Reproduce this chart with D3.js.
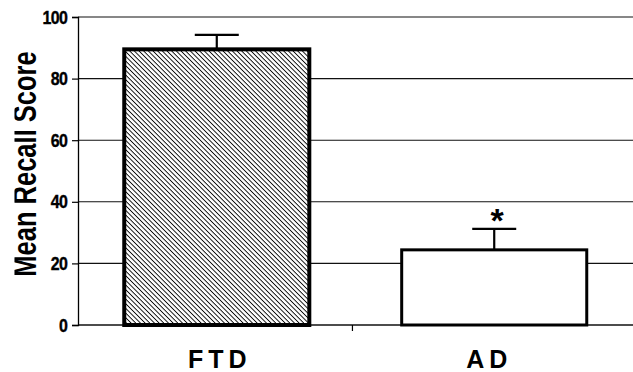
<!DOCTYPE html>
<html>
<head>
<meta charset="utf-8">
<script src="https://cdn.jsdelivr.net/npm/d3@7"></script>
<style>
  html, body { margin: 0; padding: 0; background: #fff; }
  svg { display: block; font-family: Arial, "Liberation Sans", sans-serif; }
</style>
</head>
<body>
<svg id="chart" width="633" height="372"></svg>
<script>
// data
const groups = ['FTD', 'AD'];
const means = [89.5, 24.4];
const errors = [4.7, 6.8];
const yTicks = [0, 20, 40, 60, 80, 100];
const labelShift = [3, -5]; // category labels sit a bit off-centre in the original

const margin = { top: 17, right: 0, bottom: 47, left: 78 };
const width = 633, height = 372;

const svg = d3.select('#chart');

// hatch for the FTD bar
const defs = svg.append('defs');
const pat = defs.append('pattern')
    .attr('id', 'hatch')
    .attr('patternUnits', 'userSpaceOnUse')
    .attr('width', 3.3)
    .attr('height', 3.3)
    .attr('patternTransform', 'rotate(45)');
pat.append('rect').attr('width', 3.3).attr('height', 3.3).attr('fill', '#fff');
pat.append('line')
    .attr('x1', 0).attr('y1', 0).attr('x2', 3.3).attr('y2', 0)
    .attr('stroke', '#000').attr('stroke-width', 1.8);

// the scan crops the top of the y title
defs.append('clipPath').attr('id', 'leftcut')
    .append('rect').attr('x', 14.5).attr('y', 0).attr('width', 60).attr('height', height);

const x = d3.scaleBand()
    .domain(groups)
    .range([margin.left, width - margin.right])
    .paddingInner(0.333)
    .paddingOuter(0.1667);

const y = d3.scaleLinear()
    .domain([0, 100])
    .range([height - margin.bottom, margin.top]);

// grid lines
svg.append('g')
    .selectAll('line')
    .data(yTicks)
    .enter().append('line')
    .attr('x1', margin.left)
    .attr('x2', width)
    .attr('y1', d => y(d))
    .attr('y2', d => y(d))
    .attr('stroke', '#111')
    .attr('stroke-width', d => d === 0 ? 1.6 : 1.1);

// y axis
const yAxis = svg.append('g')
    .attr('transform', `translate(${margin.left},0)`)
    .call(d3.axisLeft(y).tickValues(yTicks).tickSize(6).tickPadding(4));
yAxis.select('.domain').attr('stroke', '#000').attr('stroke-width', 1.3);
yAxis.selectAll('.tick line').attr('stroke', '#000').attr('stroke-width', 1.2);
yAxis.selectAll('.tick text')
    .attr('fill', '#000')
    .attr('stroke', '#000')
    .attr('stroke-width', 0.4)
    .attr('x', -13)
    .attr('transform', 'scale(0.84,1)')
    .style('font-size', '19px')
    .style('font-weight', 'bold')
    .style('letter-spacing', '-0.8px');

// middle tick on x axis
svg.append('line')
    .attr('x1', x.step() + margin.left - 3)
    .attr('x2', x.step() + margin.left - 3)
    .attr('y1', y(0))
    .attr('y2', y(0) + 6)
    .attr('stroke', '#000')
    .attr('stroke-width', 1.2);

// bars
svg.append('g')
    .selectAll('rect')
    .data(groups)
    .enter().append('rect')
    .attr('x', d => x(d))
    .attr('y', (d, i) => y(means[i]))
    .attr('width', x.bandwidth())
    .attr('height', (d, i) => y(0) - y(means[i]))
    .attr('fill', (d, i) => i === 0 ? 'url(#hatch)' : '#fff')
    .attr('stroke', '#000')
    .attr('stroke-width', (d, i) => i === 0 ? 4 : 3);

// error bars (upper only)
const eb = svg.append('g').attr('stroke', '#000').attr('stroke-width', 2.2);
eb.selectAll('.stem')
    .data(groups)
    .enter().append('line')
    .attr('class', 'stem')
    .attr('x1', d => x(d) + x.bandwidth() / 2)
    .attr('x2', d => x(d) + x.bandwidth() / 2)
    .attr('y1', (d, i) => y(means[i]))
    .attr('y2', (d, i) => y(means[i] + errors[i]));
eb.selectAll('.cap')
    .data(groups)
    .enter().append('line')
    .attr('class', 'cap')
    .attr('x1', d => x(d) + x.bandwidth() / 2 - 22)
    .attr('x2', d => x(d) + x.bandwidth() / 2 + 22)
    .attr('y1', (d, i) => y(means[i] + errors[i]))
    .attr('y2', (d, i) => y(means[i] + errors[i]));

// significance marker over AD
svg.append('text')
    .attr('x', x('AD') + x.bandwidth() / 2 + 3)
    .attr('y', y(means[1] + errors[1]) + 3)
    .attr('text-anchor', 'middle')
    .style('font-size', '34px')
    .style('font-weight', 'bold')
    .text('*');

// category labels
svg.append('g')
    .selectAll('text')
    .data(groups)
    .enter().append('text')
    .attr('x', (d, i) => x(d) + x.bandwidth() / 2 + labelShift[i])
    .attr('y', 368)
    .attr('text-anchor', 'middle')
    .style('font-size', '25px')
    .style('font-weight', 'bold')
    .style('letter-spacing', '5px')
    .text(d => d);

// y axis title
svg.append('g')
    .attr('clip-path', 'url(#leftcut)')
    .append('text')
    .attr('transform', 'translate(35.5,164) rotate(-90) scale(1,1.33)')
    .attr('text-anchor', 'middle')
    .style('font-size', '25.5px')
    .style('font-weight', 'bold')
    .text('Mean Recall Score');
</script>
</body>
</html>
